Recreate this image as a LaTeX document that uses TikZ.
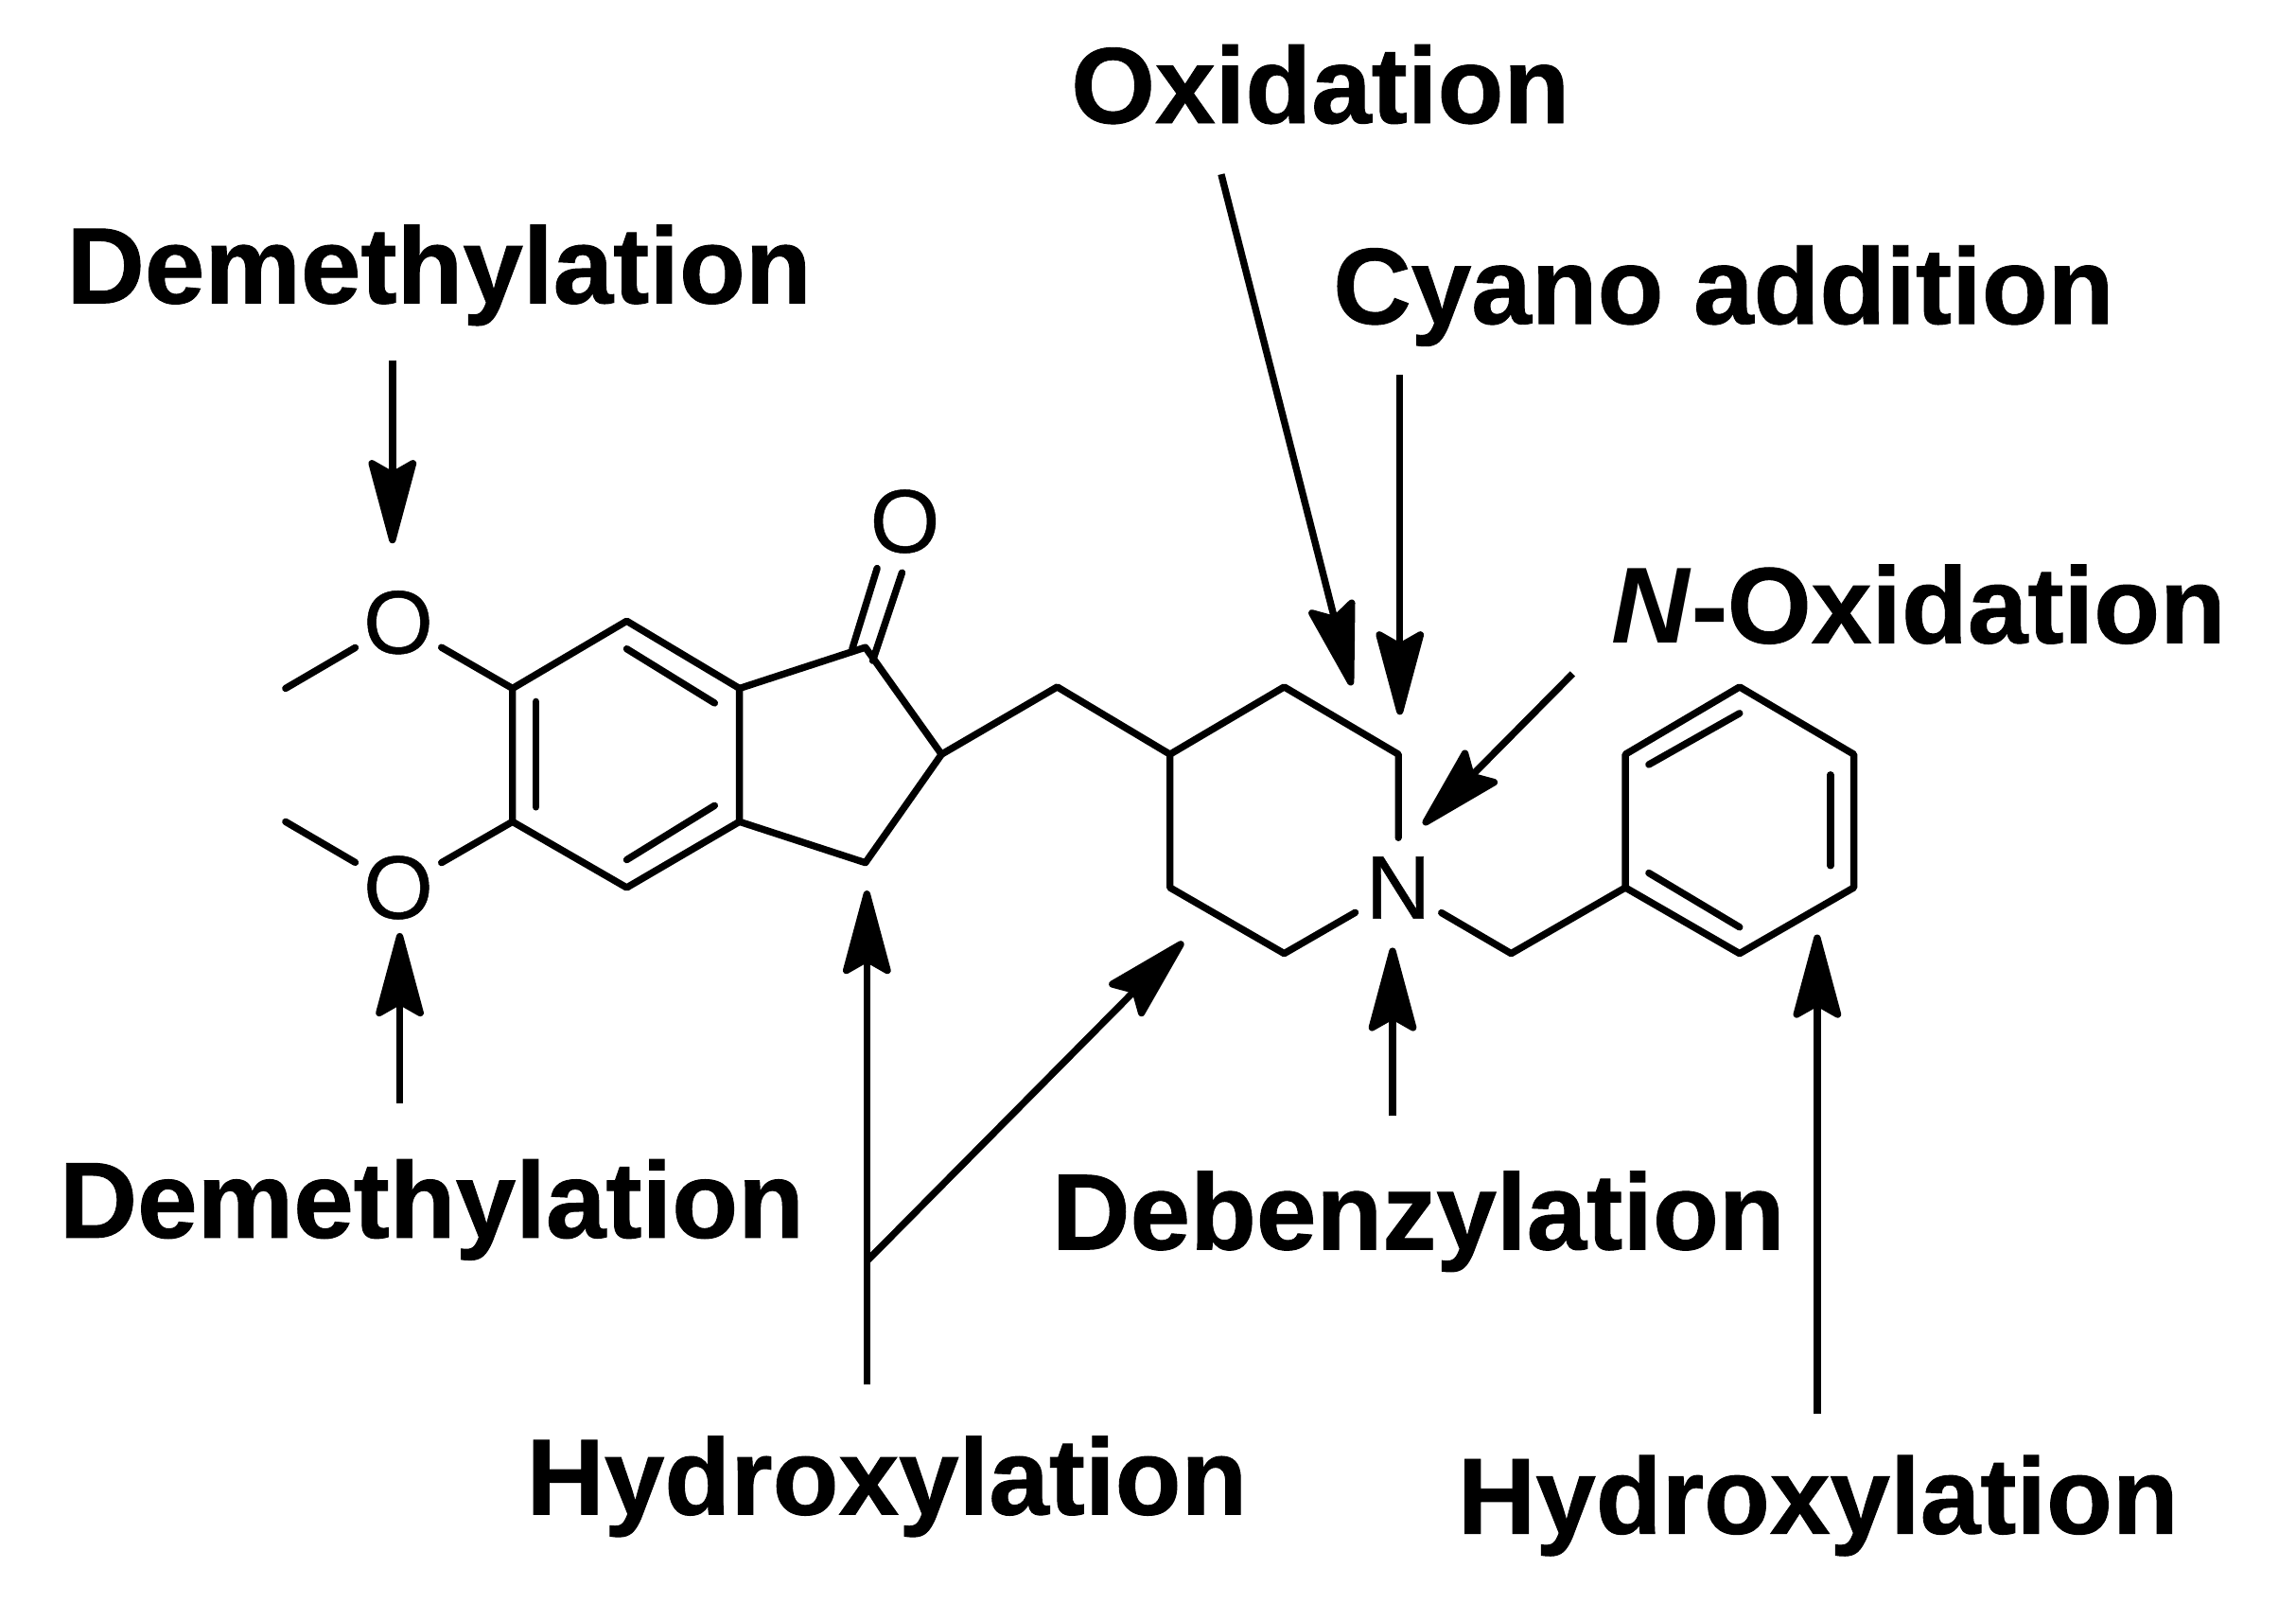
\documentclass[tikz,border=0pt]{standalone}
\usepackage{fontspec}
\setmainfont[BoldFeatures={FakeBold=0.8}]{Liberation Sans}
\usetikzlibrary{arrows.meta}
\tikzset{
  bond/.style={line width=2.1pt,line cap=round,line join=round},
  rxn/.style={line width=2.1pt,-{Stealth[length=1.02cm,width=0.54cm,inset=0.15cm,round]}},
  atomlabel/.style={font=\fontsize{27}{27}\selectfont\addfontfeature{FakeBold=0.5},inner sep=0pt,circle,minimum size=1.04cm},
  rxnlabel/.style={font=\fontsize{32.5}{34}\selectfont\bfseries,inner sep=0pt,anchor=base west},
}
\begin{document}
\begin{tikzpicture}[x=0.015478cm,y=-0.015478cm]
\useasboundingbox (0,0) rectangle (1568,1106.7);
\fill[white] (0,0) rectangle (1568,1106.7);
\begin{scope}[shift={(0,1)}]
% atoms
\foreach \n/\x/\y in {a/350/469,b/428/423,c/505/469,d/505/560,e/428/605,f/350/560,
  g/591/441,h/643/514,i/591/588,ch/722/468,j/799/514,k/877/468,l/955/514,m/877/650,nn/799/605,
  bn/1032/650,p/1110/605,q/1110/514,r/1188/468,s/1266/514,t/1266/605,u/1188/650,
  me1/195/469,me2/195/560}
  \coordinate (\n) at (\x,\y);
\node[atomlabel] (O1) at (272,424) {O};
\node[atomlabel] (O2) at (272,605) {O};
\node[atomlabel] (O3) at (618,355) {O};
\node[atomlabel] (N) at (955,605) {N};
% skeleton
\draw[bond] (a)--(b)--(c)--(d)--(e)--(f)--cycle;
\draw[bond] (c)--(g)--(h)--(i)--(d);
\draw[bond] (h)--(ch)--(j)--(k)--(l)--(N);
\draw[bond] (j)--(nn)--(m)--(N);
\draw[bond] (N)--(bn)--(p);
\draw[bond] (p)--(q)--(r)--(s)--(t)--(u)--cycle;
\draw[bond] (me1)--(O1)--(a);
\draw[bond] (me2)--(O2)--(f);
% inner bonds
\foreach \n/\ax/\ay/\bx/\by in {1/366/478/366/550,2/428/442/488/479,3/428/586/488/549,
  4/1126/521/1188/486,5/1250/528/1250/590,6/1126/595/1188/632,
  7/582/442/599/387,8/596/450/616/390}{
  \coordinate (ia\n) at (\ax,\ay);
  \coordinate (ib\n) at (\bx,\by);
  \draw[bond] (ia\n)--(ib\n);
}
% arrows
\foreach \n/\ax/\ay/\bx/\by in {1/268/245/268/370,2/273/752/273/636,3/592/944/592/607,
  4/592/860/808/642,5/834/118/923/467,6/956/255/956/487,7/1074/459/972/562,
  8/951/761/951/646,9/1241/964/1241/637}{
  \coordinate (aa\n) at (\ax,\ay);
  \coordinate (ab\n) at (\bx,\by);
  \draw[rxn] (aa\n)--(ab\n);
}
\end{scope}
% labels
\node[rxnlabel] (lox) at (731,84) {Oxidation};
\node[rxnlabel] (ldm1) at (45,207) {Demethylation};
\node[rxnlabel] (lcy) at (910,221) {Cyano addition};
\node[rxnlabel] (lno) at (1100,439) {\textit{N}-Oxidation};
\node[rxnlabel] (ldm2) at (40,845) {Demethylation};
\node[rxnlabel] (lbz) at (718,853) {Debenzylation};
\node[rxnlabel] (lh1) at (359,1034) {Hydroxylation};
\node[rxnlabel] (lh2) at (995,1047) {Hydroxylation};
\end{tikzpicture}
\end{document}
